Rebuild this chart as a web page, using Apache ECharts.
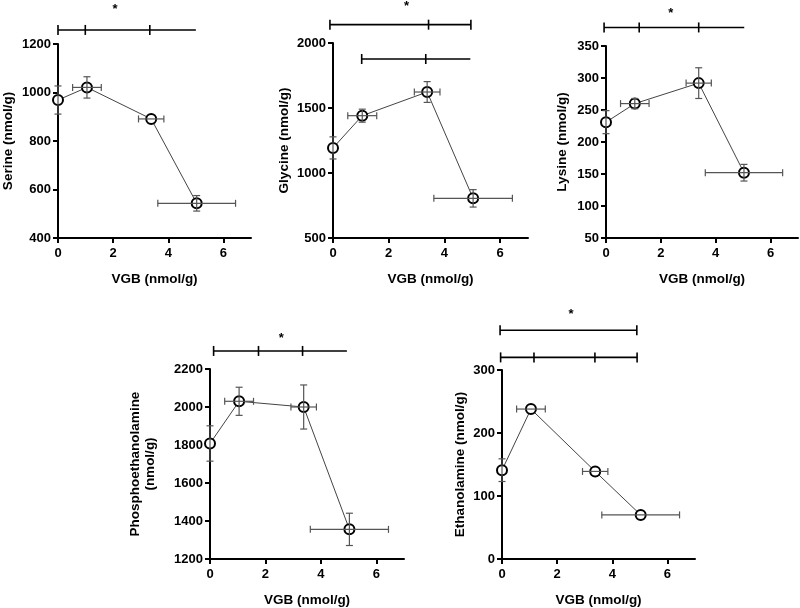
<!DOCTYPE html>
<html>
<head>
<meta charset="utf-8">
<script src="https://cdn.jsdelivr.net/npm/echarts@6/dist/echarts.min.js"></script>
<style>
html, body { margin: 0; padding: 0; background: #fff; }
#chart { width: 800px; height: 608px; }
</style>
</head>
<body>
<div id="chart"></div>
<script>
// VGB content per group (x, with SEM)
var vgbMean = [0, 1.05, 3.38, 5.03];
var vgbSem = [0, 0.52, 0.46, 1.41];

var serineMean = [969, 1021, 891, 543];
var serineSem = [58, 44, 20, 32];
var glycineMean = [1193, 1441, 1623, 805];
var glycineSem = [85, 50, 80, 67];
var lysineMean = [231, 260, 292, 152];
var lysineSem = [18, 8, 24, 13];
var phosphoMean = [1808, 2030, 2000, 1356];
var phosphoSem = [93, 74, 116, 85];
var ethanolMean = [141, 238, 139, 70];
var ethanolSem = [18, 3, 4, 3];

var xTicks = [0, 2, 4, 6];

// significance brackets: [from, to, level], tick x positions
var serineBars = [[0, 5.0, 1258]];
var serineBarTicks = [[0, 0.99, 3.33]];
var glycineBars = [[-0.11, 4.95, 2141], [1.03, 4.93, 1877]];
var glycineBarTicks = [[-0.11, 3.43, 4.95], [1.03, 3.33]];
var lysineBars = [[-0.07, 5.04, 379]];
var lysineBarTicks = [[-0.07, 1.21, 3.38]];
var phosphoBars = [[0.13, 4.94, 2295]];
var phosphoBarTicks = [[0.13, 1.75, 3.34]];
var ethanolBars = [[-0.07, 4.89, 363], [-0.05, 4.9, 320]];
var ethanolBarTicks = [[-0.07, 4.89], [-0.05, 1.16, 3.37, 4.9]];

var serineStar = [2.07, 1357];
var glycineStar = [2.64, 2302];
var lysineStar = [2.36, 406];
var phosphoStar = [2.57, 2378];
var ethanolStar = [2.5, 393];

var FONT = "'Liberation Sans', Arial, sans-serif";
var SYMBOL_R = 5;

var panels = [
	{name: "Serine (nmol/g)", mean: serineMean, sem: serineSem, bars: serineBars, ticks: serineBarTicks, star: serineStar,
		min: 400, max: 1200, interval: 200, gap: 42, grid: {left: 55, top: 44, width: 196, height: 194}},
	{name: "Glycine (nmol/g)", mean: glycineMean, sem: glycineSem, bars: glycineBars, ticks: glycineBarTicks, star: glycineStar,
		min: 500, max: 2000, interval: 500, gap: 41, grid: {left: 333, top: 43, width: 195, height: 195}},
	{name: "Lysine (nmol/g)", mean: lysineMean, sem: lysineSem, bars: lysineBars, ticks: lysineBarTicks, star: lysineStar,
		min: 50, max: 350, interval: 50, gap: 36, grid: {left: 606, top: 46, width: 192, height: 192}},
	{name: "Phosphoethanolamine\n(nmol/g)", mean: phosphoMean, sem: phosphoSem, bars: phosphoBars, ticks: phosphoBarTicks, star: phosphoStar,
		min: 1200, max: 2200, interval: 200, gap: 52, grid: {left: 210, top: 369, width: 194, height: 193}},
	{name: "Ethanolamine (nmol/g)", mean: ethanolMean, sem: ethanolSem, bars: ethanolBars, ticks: ethanolBarTicks, star: ethanolStar,
		min: 0, max: 300, interval: 100, gap: 34, grid: {left: 502, top: 370, width: 193, height: 192}}
];

function seg(x1, y1, x2, y2, style){
	return {type: "line", shape: {x1: x1, y1: y1, x2: x2, y2: y2}, style: style};
}

// error bars hidden by the symbol when shorter than its radius
function renderErr(params, api){
	var x = api.value(0), y = api.value(1), xe = api.value(2), ye = api.value(3);
	var style = {stroke: "#555", lineWidth: 1.2};
	var c = api.coord([x, y]);
	var kids = [];
	if (ye > 0) {
		var t = api.coord([x, y + ye]), b = api.coord([x, y - ye]);
		if (c[1] - t[1] > SYMBOL_R) {
			kids.push(seg(t[0], t[1], b[0], b[1], style));
			kids.push(seg(t[0] - 3.5, t[1], t[0] + 3.5, t[1], style));
			kids.push(seg(b[0] - 3.5, b[1], b[0] + 3.5, b[1], style));
		}
	}
	if (xe > 0) {
		var l = api.coord([x - xe, y]), r = api.coord([x + xe, y]);
		if (c[0] - l[0] > SYMBOL_R) {
			kids.push(seg(l[0], l[1], r[0], r[1], style));
			kids.push(seg(l[0], l[1] - 3.5, l[0], l[1] + 3.5, style));
			kids.push(seg(r[0], r[1] - 3.5, r[0], r[1] + 3.5, style));
		}
	}
	return {type: "group", children: kids};
}

function makeBarRender(tickList){
	return function(params, api){
		var from = api.value(0), to = api.value(1), lvl = api.value(2);
		var style = {stroke: "#000", lineWidth: 1.6};
		var a = api.coord([from, lvl]), b = api.coord([to, lvl]);
		var kids = [seg(a[0], a[1], b[0], b[1], style)];
		tickList[params.dataIndex].forEach(function(tx){
			var p = api.coord([tx, lvl]);
			kids.push(seg(p[0], p[1] - 5, p[0], p[1] + 5, style));
		});
		return {type: "group", children: kids};
	};
}

function renderStar(params, api){
	var p = api.coord([api.value(0), api.value(1)]);
	return {type: "text", x: p[0], y: p[1] + 3, style: {text: "*", fill: "#000",
		font: "bold 13px " + FONT, align: "center", verticalAlign: "middle"}};
}

var grids = [], xAxes = [], yAxes = [], series = [];
panels.forEach(function(pn, i){
	grids.push(pn.grid);
	xAxes.push({
		type: "value", gridIndex: i, min: 0, max: 7, interval: 2,
		name: "VGB (nmol/g)", nameLocation: "middle", nameGap: 34,
		nameTextStyle: {fontFamily: FONT, fontWeight: "bold", fontSize: 13.5, color: "#000"},
		axisLine: {show: true, onZero: false, lineStyle: {color: "#000", width: 2}},
		axisTick: {show: true, length: 5, customValues: xTicks, lineStyle: {color: "#000", width: 2}},
		axisLabel: {customValues: xTicks, margin: 9, fontFamily: FONT, fontWeight: "bold", fontSize: 13, color: "#000"},
		splitLine: {show: false}
	});
	yAxes.push({
		type: "value", gridIndex: i, min: pn.min, max: pn.max, interval: pn.interval,
		name: pn.name, nameLocation: "middle", nameGap: pn.gap, nameRotate: 90,
		nameTextStyle: {fontFamily: FONT, fontWeight: "bold", fontSize: 13.5, color: "#000", lineHeight: 15},
		axisLine: {show: true, onZero: false, lineStyle: {color: "#000", width: 2}},
		axisTick: {show: true, length: 5, lineStyle: {color: "#000", width: 2}},
		axisLabel: {margin: 7, fontFamily: FONT, fontWeight: "bold", fontSize: 13, color: "#000",
			formatter: function(v){ return String(v); }},
		splitLine: {show: false}
	});
	var pts = [], errs = [];
	for (var k = 0; k < vgbMean.length; k++) {
		pts.push([vgbMean[k], pn.mean[k]]);
		errs.push([vgbMean[k], pn.mean[k], vgbSem[k], pn.sem[k]]);
	}
	series.push({
		type: "line", xAxisIndex: i, yAxisIndex: i, data: pts, z: 2,
		symbol: "circle", symbolSize: SYMBOL_R * 2, showAllSymbol: true,
		lineStyle: {color: "#444", width: 1},
		itemStyle: {color: "#fff", borderColor: "#000", borderWidth: 2, opacity: 1},
		animation: false, silent: true
	});
	series.push({
		type: "custom", xAxisIndex: i, yAxisIndex: i, clip: false, z: 3,
		renderItem: renderErr, data: errs, silent: true
	});
	series.push({
		type: "custom", xAxisIndex: i, yAxisIndex: i, clip: false, z: 4,
		renderItem: makeBarRender(pn.ticks), data: pn.bars, silent: true
	});
	series.push({
		type: "custom", xAxisIndex: i, yAxisIndex: i, clip: false, z: 4,
		renderItem: renderStar, data: [pn.star], silent: true
	});
});

var chart = echarts.init(document.getElementById("chart"), null, {renderer: "canvas"});
chart.setOption({
	animation: false,
	backgroundColor: "#fff",
	grid: grids,
	xAxis: xAxes,
	yAxis: yAxes,
	series: series
});
</script>
</body>
</html>
